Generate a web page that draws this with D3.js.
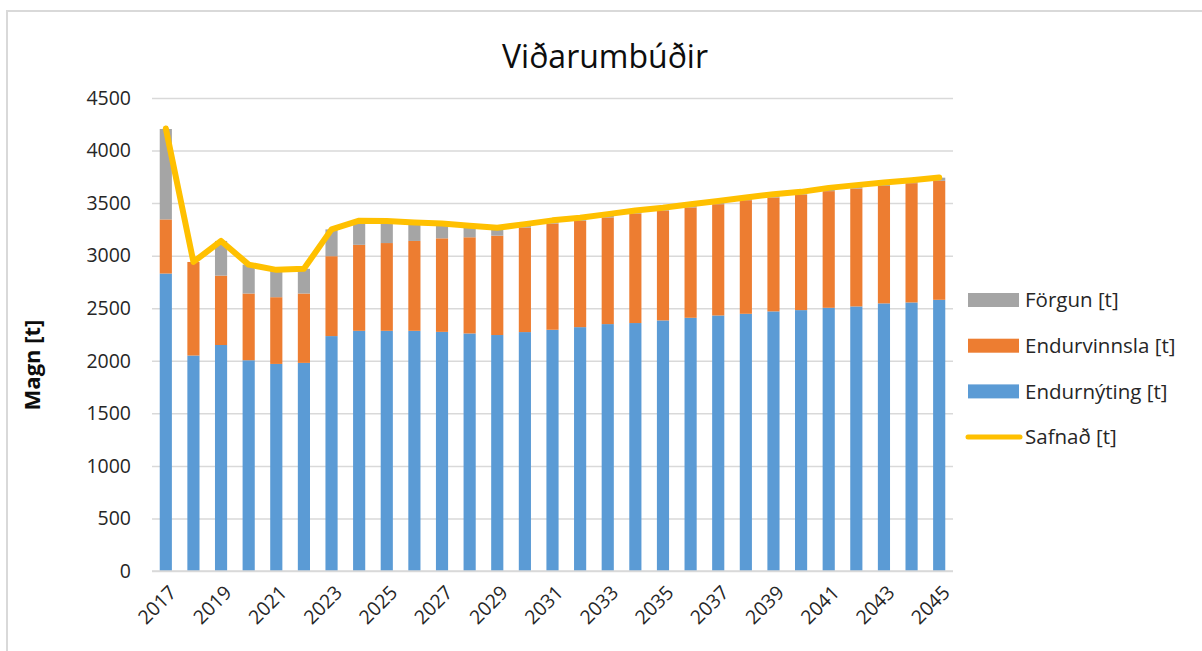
<!DOCTYPE html>
<html>
<head>
<meta charset="utf-8">
<script src="https://cdn.jsdelivr.net/npm/d3@7"></script>
<style>
  html, body { margin: 0; padding: 0; background: #fff; }
  svg { display: block; font-family: "Open Sans", "Lato", sans-serif; }
</style>
</head>
<body>
<svg id="chart" width="1202" height="651"></svg>
<script>
// Wood packaging (Viðarumbúðir), tonnes per year, 2017–2045
const years = d3.range(2017, 2046);
const endurnyting = [2830, 2050, 2150, 2005, 1970, 1980, 2235, 2285, 2285, 2285, 2275, 2260, 2245, 2273, 2295,
  2320, 2349, 2359, 2384, 2409, 2431, 2447, 2470, 2482, 2504, 2517, 2546, 2555, 2580];
const endurvinnsla = [515, 890, 660, 635, 635, 660, 760, 818, 835, 855, 890, 915, 945, 995, 1011,
  1012, 1015, 1043, 1046, 1050, 1059, 1081, 1084, 1100, 1110, 1122, 1118, 1135, 1132];
const forgun = [860, 0, 330, 275, 260, 235, 255, 230, 210, 175, 140, 110, 75, 32, 30,
  28, 31, 28, 25, 31, 30, 26, 31, 25, 31, 32, 33, 28, 30];
const safnad = [4210, 2940, 3140, 2915, 2865, 2875, 3250, 3333, 3330, 3315, 3305, 3285, 3265, 3300, 3336,
  3360, 3395, 3430, 3455, 3490, 3520, 3554, 3585, 3607, 3645, 3671, 3697, 3718, 3744];
const yTicks = [0, 500, 1000, 1500, 2000, 2500, 3000, 3500, 4000, 4500];

const series = [
  { key: "endurnyting", name: "Endurnýting [t]", values: endurnyting, color: "#5b9bd5" },
  { key: "endurvinnsla", name: "Endurvinnsla [t]", values: endurvinnsla, color: "#ed7d31" },
  { key: "forgun", name: "Förgun [t]", values: forgun, color: "#a5a5a5" }
];
const lineSeries = { name: "Safnað [t]", values: safnad, color: "#ffc000" };

const svg = d3.select("#chart");
const plot = { left: 152, right: 953, top: 98, bottom: 571 };
const textColor = "#262626";

// chart frame
svg.append("rect")
  .attr("x", 7).attr("y", 11).attr("width", 1220).attr("height", 660)
  .attr("fill", "#fff").attr("stroke", "#d9d9d9").attr("stroke-width", 2);

const x = d3.scaleBand().domain(years).range([plot.left, plot.right]).paddingInner(0.56).paddingOuter(0.28);
const y = d3.scaleLinear().domain([0, 4500]).range([plot.bottom, plot.top]);

// gridlines and y-axis labels
const yAxis = d3.axisLeft(y).tickValues(yTicks).tickFormat(d3.format("d"))
  .tickSize(-(plot.right - plot.left)).tickPadding(21);
const gy = svg.append("g").attr("transform", `translate(${plot.left},0)`).call(yAxis);
gy.select(".domain").remove();
gy.selectAll(".tick line").attr("stroke", "#d9d9d9").attr("stroke-width", 1.5);
gy.selectAll(".tick text").attr("font-size", 19.5).attr("fill", textColor)
  .attr("font-family", "'Open Sans', sans-serif");

// stacked bars
const rows = years.map((yr, i) => {
  const r = { year: yr };
  series.forEach(s => { r[s.key] = s.values[i]; });
  return r;
});
const stack = d3.stack().keys(series.map(s => s.key));
const layers = stack(rows);
svg.append("g").selectAll("g")
  .data(layers).join("g")
  .attr("fill", (d, i) => series[i].color)
  .selectAll("rect")
  .data(d => d).join("rect")
  .attr("x", d => x(d.data.year))
  .attr("width", x.bandwidth())
  .attr("y", d => y(d[1]))
  .attr("height", d => y(d[0]) - y(d[1]));

// baseline
svg.append("line")
  .attr("x1", plot.left).attr("x2", plot.right)
  .attr("y1", y(0)).attr("y2", y(0))
  .attr("stroke", "#d9d9d9").attr("stroke-width", 1.5);

// collected total line
const line = d3.line()
  .x((d, i) => x(years[i]) + x.bandwidth() / 2)
  .y(d => y(d));
svg.append("path")
  .datum(lineSeries.values)
  .attr("d", line)
  .attr("fill", "none")
  .attr("stroke", lineSeries.color)
  .attr("stroke-width", 6)
  .attr("stroke-linejoin", "round")
  .attr("stroke-linecap", "round");

// x-axis labels every other year, rotated
const xLabels = years.filter((d, i) => i % 2 === 0);
svg.append("g").selectAll("text")
  .data(xLabels).join("text")
  .attr("transform", d => `translate(${x(d) + x.bandwidth() / 2 + 2},${plot.bottom + 13}) rotate(-45)`)
  .attr("text-anchor", "end")
  .attr("dy", "0.72em")
  .attr("font-size", 19.5)
  .attr("fill", textColor)
  .text(d => d);

// title
svg.append("text")
  .attr("x", 605).attr("y", 68)
  .attr("text-anchor", "middle")
  .attr("font-size", 32)
  .attr("fill", "#0d0d0d")
  .text("Viðarumbúðir");

// y-axis title
svg.append("text")
  .attr("transform", "translate(40,365) rotate(-90)")
  .attr("text-anchor", "middle")
  .attr("font-size", 22)
  .attr("font-weight", "bold")
  .attr("fill", "#0d0d0d")
  .text("Magn [t]");

// legend
const legendItems = [
  { name: "Förgun [t]", color: "#a5a5a5", type: "rect" },
  { name: "Endurvinnsla [t]", color: "#ed7d31", type: "rect" },
  { name: "Endurnýting [t]", color: "#5b9bd5", type: "rect" },
  { name: lineSeries.name, color: lineSeries.color, type: "line" }
];
const lg = svg.append("g").attr("transform", "translate(968,300)");
const item = lg.selectAll("g").data(legendItems).join("g")
  .attr("transform", (d, i) => `translate(0,${i * 45.7})`);
item.filter(d => d.type === "rect").append("rect")
  .attr("x", 0).attr("y", -7).attr("width", 51).attr("height", 14)
  .attr("fill", d => d.color);
item.filter(d => d.type === "line").append("line")
  .attr("x1", 0).attr("x2", 52).attr("y1", 0).attr("y2", 0)
  .attr("stroke", d => d.color).attr("stroke-width", 5).attr("stroke-linecap", "round");
item.append("text")
  .attr("x", 57).attr("y", 0).attr("dy", "0.35em")
  .attr("font-size", 20.5)
  .attr("fill", textColor)
  .text(d => d.name);
</script>
</body>
</html>
